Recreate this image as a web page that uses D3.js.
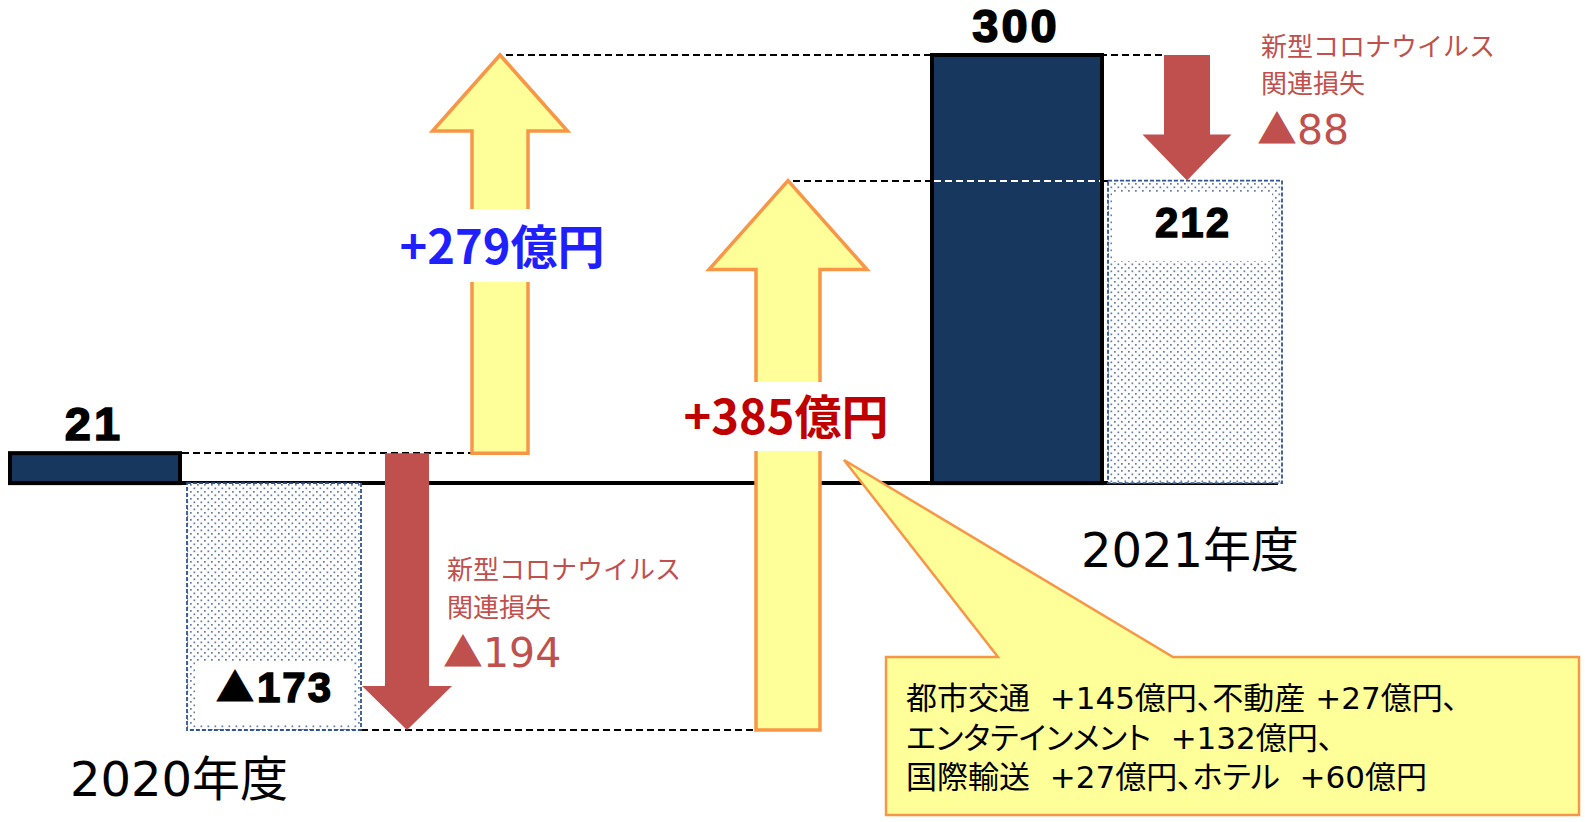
<!DOCTYPE html>
<html>
<head>
<meta charset="utf-8">
<script src="https://cdn.jsdelivr.net/npm/d3@7"></script>
<style>
  body { margin: 0; background: #fff; }
  svg { display: block; }
  text { white-space: pre; }
</style>
</head>
<body>
<div id="chart"></div>
<script>
// values (億円)
const years = ["2020年度", "2021年度"];
const actualValues = [21, 300];
const exCovidValues = [-173, 212];
const covidLosses = [194, 88];
const increaseValues = [279, 385];
const increaseLabels = ["+279億円", "+385億円"];
const exCovidLabels = ["173", "212"];
const exCovidPrefix = ["▲", ""];
const lossLabels = ["194", "88"];
const lossTitle = ["新型コロナウイルス", "関連損失"];
const calloutLines = [
  "都市交通  +145億円、不動産 +27億円、",
  "エンタテインメント  +132億円、",
  "国際輸送  +27億円、ホテル  +60億円"
];

const W = 1585, H = 822;
const jp = "'Noto Sans CJK JP', 'Noto Sans', sans-serif";
const mixed = "'DejaVu Sans', 'Noto Sans CJK JP', sans-serif";
const num = "'Liberation Sans', Arial, sans-serif";

const svg = d3.select("#chart").append("svg")
  .attr("width", W).attr("height", H);

// y scale
const y = d3.scaleLinear().domain([-173, 300]).range([730, 55]);

// column centers
const col = d3.scaleOrdinal()
  .domain(["act0", "ex0", "loss0", "inc0", "inc1", "act1", "ex1", "loss1"])
  .range([95, 274, 407, 500, 788, 1017, 1195, 1187]);
const barW = 174;

// dot pattern for the hatched boxes
const defs = svg.append("defs");
const pat = defs.append("pattern")
  .attr("id", "dots").attr("patternUnits", "userSpaceOnUse")
  .attr("width", 7).attr("height", 7);
pat.append("rect").attr("width", 7).attr("height", 7).attr("fill", "#fff");
pat.append("rect").attr("x", 1).attr("y", 1).attr("width", 1.7).attr("height", 1.7).attr("fill", "#6479A0");
pat.append("rect").attr("x", 4.5).attr("y", 4.5).attr("width", 1.7).attr("height", 1.7).attr("fill", "#6479A0");

// arrow path helper
function arrowPath(cx, yFrom, yTip, shaftW, headW, headH) {
  const dir = yTip < yFrom ? 1 : -1; // 1 = up
  const yHead = yTip + dir * headH;
  return `M${cx - shaftW / 2},${yFrom} L${cx - shaftW / 2},${yHead} L${cx - headW / 2},${yHead}` +
    ` L${cx},${yTip} L${cx + headW / 2},${yHead} L${cx + shaftW / 2},${yHead} L${cx + shaftW / 2},${yFrom} Z`;
}

// dashed connector lines
const dash = svg.append("g").attr("stroke", "#000").attr("stroke-width", 2)
  .attr("stroke-dasharray", "7,4").attr("fill", "none").attr("shape-rendering", "crispEdges");
dash.append("line").attr("x1", col("act0") + barW / 2).attr("x2", col("inc0") - 28)
  .attr("y1", y(actualValues[0])).attr("y2", y(actualValues[0]));
dash.append("line").attr("x1", col("inc0") + 6).attr("x2", col("loss1") - 23)
  .attr("y1", y(actualValues[1])).attr("y2", y(actualValues[1]));
dash.append("line").attr("x1", col("inc1") + 5).attr("x2", col("ex1") - barW / 2)
  .attr("y1", y(exCovidValues[1])).attr("y2", y(exCovidValues[1]));
dash.append("line").attr("x1", col("ex0") + barW / 2).attr("x2", col("inc1") - 32)
  .attr("y1", y(exCovidValues[0])).attr("y2", y(exCovidValues[0]));

// baseline
svg.append("line")
  .attr("x1", col("act0") - barW / 2).attr("x2", col("ex1") + barW / 2 - 4)
  .attr("y1", y(0)).attr("y2", y(0))
  .attr("stroke", "#000").attr("stroke-width", 4);

// hatched (excluding covid) boxes
const exCols = ["ex0", "ex1"];
svg.selectAll(".exbox").data(exCovidValues).enter().append("rect")
  .attr("class", "exbox")
  .attr("x", (d, i) => col(exCols[i]) - barW / 2)
  .attr("width", barW)
  .attr("y", d => Math.min(y(d), y(0)))
  .attr("height", d => Math.abs(y(d) - y(0)))
  .attr("fill", "url(#dots)")
  .attr("stroke", "#2F5597").attr("stroke-width", 1.8).attr("stroke-dasharray", "4,2");

// actual bars
const actCols = ["act0", "act1"];
svg.selectAll(".actbar").data(actualValues).enter().append("rect")
  .attr("class", "actbar")
  .attr("x", (d, i) => col(actCols[i]) - barW / 2 + 2)
  .attr("width", barW - 4)
  .attr("y", d => y(d))
  .attr("height", d => y(0) - y(d))
  .attr("fill", "#17375E")
  .attr("stroke", "#000").attr("stroke-width", 4);

// white dashes across 2021 bar at 212 level
svg.append("line")
  .attr("x1", col("act1") - barW / 2 + 4).attr("x2", col("act1") + barW / 2 - 4)
  .attr("y1", y(exCovidValues[1])).attr("y2", y(exCovidValues[1]))
  .attr("stroke", "#fff").attr("stroke-width", 2).attr("stroke-dasharray", "7,4")
  .attr("shape-rendering", "crispEdges");

// white label boxes inside hatched boxes
const exLabelBox = [{ x0: 195, x1: 354, y0: 661, y1: 725 }, { x0: 1112, x1: 1272, y0: 192, y1: 261 }];
svg.selectAll(".exlabbox").data(exLabelBox).enter().append("rect")
  .attr("x", d => d.x0).attr("width", d => d.x1 - d.x0)
  .attr("y", d => d.y0).attr("height", d => d.y1 - d.y0)
  .attr("fill", "#fff");

// red loss arrows
const lossArrows = [
  { c: "loss0", from: actualValues[0], shaft: 44, head: 90, hh: 44 },
  { c: "loss1", from: actualValues[1], shaft: 46, head: 89, hh: 46 }
];
svg.selectAll(".loss").data(lossArrows).enter().append("path")
  .attr("d", (d, i) => arrowPath(col(d.c), y(d.from), y(d.from - covidLosses[i]), d.shaft, d.head, d.hh))
  .attr("fill", "#C0504D");

// yellow increase arrows
const incArrows = [
  { c: "inc0", from: actualValues[0], shaft: 56, head: 135, hh: 76 },
  { c: "inc1", from: exCovidValues[0], shaft: 64, head: 158, hh: 89 }
];
svg.selectAll(".inc").data(incArrows).enter().append("path")
  .attr("d", (d, i) => arrowPath(col(d.c), y(d.from), y(d.from + increaseValues[i]), d.shaft, d.head, d.hh))
  .attr("fill", "#FFFF99")
  .attr("stroke", "#F79646").attr("stroke-width", 3.5).attr("stroke-linejoin", "miter");

// white gaps + increase labels
const incLab = [{ gy0: 209, gy1: 282, base: 264, dx: 2, color: "#1F1FFF" }, { gy0: 382, gy1: 451, base: 434, dx: -2, color: "#C00000" }];
incLab.forEach((d, i) => {
  svg.append("rect")
    .attr("x", col(incArrows[i].c) - 40).attr("width", 80)
    .attr("y", d.gy0).attr("height", d.gy1 - d.gy0).attr("fill", "#fff");
  svg.append("text")
    .attr("x", col(incArrows[i].c) + d.dx).attr("y", d.base)
    .attr("text-anchor", "middle")
    .style("font-family", jp).style("font-weight", 700).style("font-size", "47px")
    .style("fill", d.color)
    .text(increaseLabels[i]);
});

// callout
const cb = { x0: 886, x1: 1579, y0: 657, y1: 815, tipX: 844, tipY: 460, b0: 998, b1: 1173 };
svg.append("path")
  .attr("d", `M${cb.x0},${cb.y0} L${cb.b0},${cb.y0} L${cb.tipX},${cb.tipY} L${cb.b1},${cb.y0} L${cb.x1},${cb.y0} L${cb.x1},${cb.y1} L${cb.x0},${cb.y1} Z`)
  .attr("fill", "#FFFF99").attr("stroke", "#F79646").attr("stroke-width", 2.5);
svg.selectAll(".callout").data(calloutLines).enter().append("text")
  .attr("x", 906).attr("y", (d, i) => 709 + i * 39.5)
  .style("font-family", mixed).style("font-size", "31px").style("fill", "#000")
  .style("font-feature-settings", "'palt'")
  .text(d => d);

// value labels
svg.selectAll(".actlab").data(actualValues).enter().append("text")
  .attr("x", (d, i) => col(actCols[i]) - 1).attr("y", d => y(d) - 13)
  .attr("text-anchor", "middle")
  .style("font-family", num).style("font-weight", 700).style("font-size", "47px")
  .style("letter-spacing", "3px").style("stroke", "#000").style("stroke-width", 1.6)
  .text(d => d);
const exLabPos = [{ x: 274, b: 702 }, { x: 1193, b: 237 }];
const exLab = svg.selectAll(".exlab").data(exCovidLabels).enter().append("text")
  .attr("x", (d, i) => exLabPos[i].x).attr("y", (d, i) => exLabPos[i].b)
  .attr("text-anchor", "middle")
  .style("font-family", num).style("font-weight", 700).style("font-size", "42px")
  .style("letter-spacing", "2px").style("stroke", "#000").style("stroke-width", 1.4);
exLab.append("tspan").style("font-family", jp).style("font-size", "40px")
  .style("stroke-width", 0).text((d, i) => exCovidPrefix[i]);
exLab.append("tspan").text(d => d);

// covid loss labels
const lossPos = [{ x: 447, b: [579, 617, 667] }, { x: 1261, b: [56, 93, 144] }];
lossPos.forEach((p, i) => {
  const g = svg.append("g").style("fill", "#C0504D").style("font-family", jp);
  g.append("text").attr("x", p.x).attr("y", p.b[0]).style("font-size", "26px").text(lossTitle[0]);
  g.append("text").attr("x", p.x).attr("y", p.b[1]).style("font-size", "26px").text(lossTitle[1]);
  const t = g.append("text").attr("x", p.x - 4).attr("y", p.b[2]);
  t.append("tspan").style("font-size", "40px").text("▲");
  t.append("tspan").style("font-family", mixed).style("font-size", "41px").text(lossLabels[i]);
});

// year labels
const yearPos = [{ x: 179, b: 796 }, { x: 1190, b: 567 }];
svg.selectAll(".year").data(years).enter().append("text")
  .attr("x", (d, i) => yearPos[i].x).attr("y", (d, i) => yearPos[i].b)
  .attr("text-anchor", "middle")
  .style("font-family", mixed).style("font-size", "48px").style("fill", "#000")
  .text(d => d);
</script>
</body>
</html>
